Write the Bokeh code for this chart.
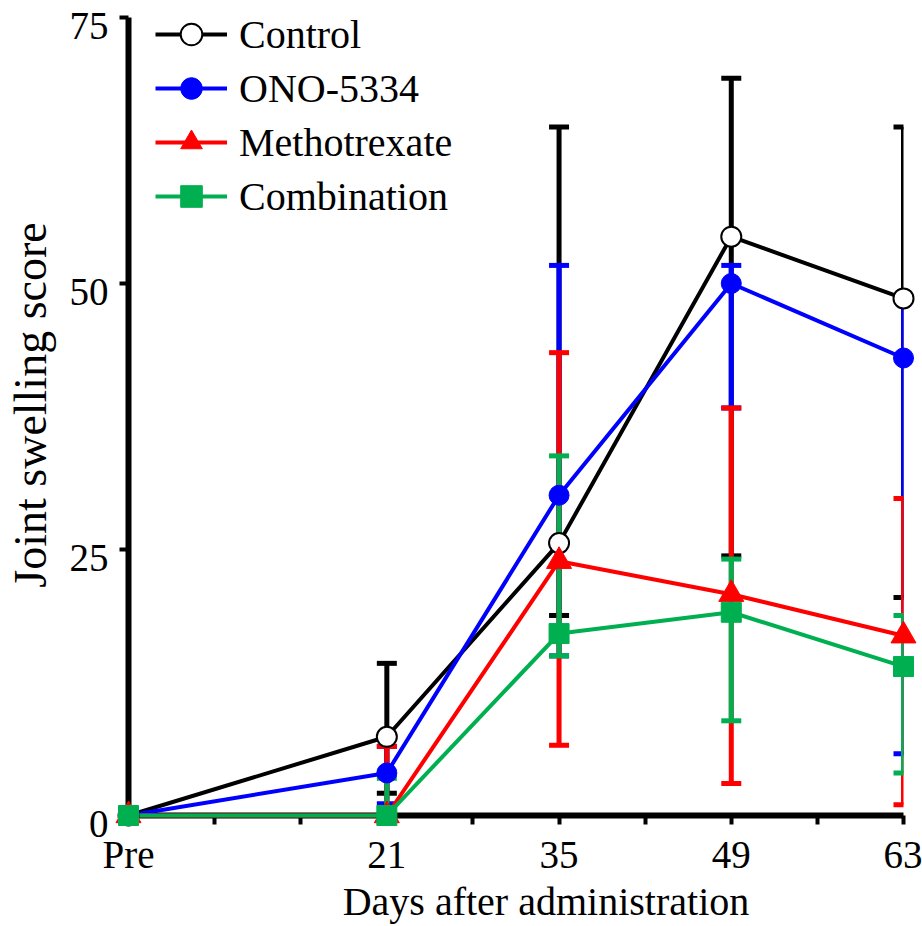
from bokeh.plotting import figure
from bokeh.models import (Range1d, FixedTicker, Whisker, TeeHead, ColumnDataSource,
                          Legend, LegendItem)
from bokeh.core.properties import value
from bokeh.embed import file_html
from bokeh.resources import INLINE

# ---- data ----
days = [0, 21, 35, 49, 63]
tick_labels = ["Pre", "21", "35", "49", "63"]
minor_days = [7, 14, 28, 42, 56]
y_ticks = [0, 25, 50, 75]
y_tick_labels = ["0", "25", "50", "75"]

control_mean = [0, 7.4, 25.6, 54.4, 48.6]
control_upper = [0, 14.3, 64.7, 69.3, 64.7]
control_lower = [0, 2.1, 18.8, 24.4, 20.5]

ono_mean = [0, 4.0, 30.1, 50.0, 43.0]
ono_upper = [0, 6.5, 51.7, 51.7, 48.6]
ono_lower = [0, 1.1, 15.0, 38.3, 5.8]

mtx_mean = [0, 0, 23.9, 20.8, 16.9]
mtx_upper = [0, 6.5, 43.5, 38.3, 29.8]
mtx_lower = [0, 0, 6.6, 3.0, 1.0]

combo_mean = [0, 0, 17.1, 19.1, 14.0]
combo_upper = [0, 3.5, 33.8, 24.1, 18.8]
combo_lower = [0, 0, 15.0, 8.9, 4.0]

series_names = ["Control", "ONO-5334", "Methotrexate", "Combination"]

FONT = "Liberation Serif"
NB = "\u00a0"

p = figure(width=922, height=926, x_range=Range1d(0, 63), y_range=Range1d(0, 75),
           output_backend="svg", toolbar_location=None,
           min_border_left=128, min_border_right=19, min_border_top=17, min_border_bottom=109)
p.xgrid.visible = False
p.ygrid.visible = False
p.outline_line_color = None
p.background_fill_color = "white"
p.border_fill_color = "white"

# axes
for ax in (p.xaxis[0], p.yaxis[0]):
    ax.axis_line_width = 6
    ax.axis_line_color = "black"
    ax.major_tick_line_width = 4
    ax.major_tick_line_color = "black"
    ax.major_tick_out = 9
    ax.major_tick_in = 0
    ax.minor_tick_line_width = 4
    ax.minor_tick_line_color = "black"
    ax.minor_tick_out = 9
    ax.minor_tick_in = 0
    ax.major_label_text_font = FONT
    ax.major_label_text_font_size = "39px"
    ax.major_label_text_color = "black"
    ax.axis_label_text_font = FONT
    ax.axis_label_text_font_style = "normal"
    ax.axis_label_text_color = "black"

p.xaxis.ticker = FixedTicker(ticks=days, minor_ticks=minor_days)
p.xaxis.major_label_overrides = {d: lab for d, lab in zip(days, tick_labels)}
p.xaxis.axis_label = NB * 6 + "Days after administration"
p.xaxis.axis_label_text_font_size = "40px"
p.xaxis.major_label_standoff = 8
p.xaxis.axis_label_standoff = 0

# y tick labels drawn as text at the tick values (slightly below each tick, as in the reference)
p.yaxis.ticker = FixedTicker(ticks=y_ticks, minor_ticks=[])
p.yaxis.major_label_overrides = {t: "" for t in y_ticks}
p.yaxis.axis_label = NB * 2 + "Joint swelling score"
p.yaxis.axis_label_text_font_size = "46px"
p.yaxis.major_label_standoff = 0
p.yaxis.axis_label_standoff = 64

p.text(x=[0] * len(y_ticks), y=y_ticks, text=y_tick_labels, x_offset=-20, y_offset=8,
       text_align="right", text_baseline="middle", text_font=value(FONT),
       text_font_size="39px", text_color="black", level="overlay")

colors = ["black", "#0000FF", "#FF0000", "#00B050"]
means = [control_mean, ono_mean, mtx_mean, combo_mean]
uppers = [control_upper, ono_upper, mtx_upper, combo_upper]
lowers = [control_lower, ono_lower, mtx_lower, combo_lower]
markers = ["circle", "circle", "triangle", "square"]
fills = ["white", "#0000FF", "#FF0000", "#00B050"]
sizes = [20, 20, 25, 20]

# error bars first (back to front: control, ONO, MTX, combination)
for c, u, lo in zip(colors, uppers, lowers):
    src = ColumnDataSource(dict(x=days[1:], upper=u[1:], lower=lo[1:]))
    w = Whisker(source=src, base="x", upper="upper", lower="lower", dimension="height",
                line_color=c, line_width=5, level="annotation",
                upper_head=TeeHead(size=20, line_color=c, line_width=5),
                lower_head=TeeHead(size=20, line_color=c, line_width=5))
    p.add_layout(w)

line_rs = []
for c, m in zip(colors, means):
    r = p.line(days, m, line_color=c, line_width=4, level="overlay")
    line_rs.append(r)

marker_rs = []
for c, m, mk, f, s in zip(colors, means, markers, fills, sizes):
    r = p.scatter(days, m, marker=mk, size=s, fill_color=f, line_color=c,
                  line_width=2 if f == "white" else 1, level="overlay")
    marker_rs.append(r)

items = [LegendItem(label=n, renderers=[lr, mr])
         for n, lr, mr in zip(series_names, line_rs, marker_rs)]
legend = Legend(items=items, location=(27, 592), padding=0, margin=0,
                border_line_color=None, background_fill_alpha=0,
                label_text_font=FONT, label_text_font_size="40px", label_text_color="black",
                glyph_width=72, glyph_height=54, label_height=54,
                spacing=0, label_standoff=12)
p.add_layout(legend)

open("out.html", "w").write(file_html(p, INLINE))
